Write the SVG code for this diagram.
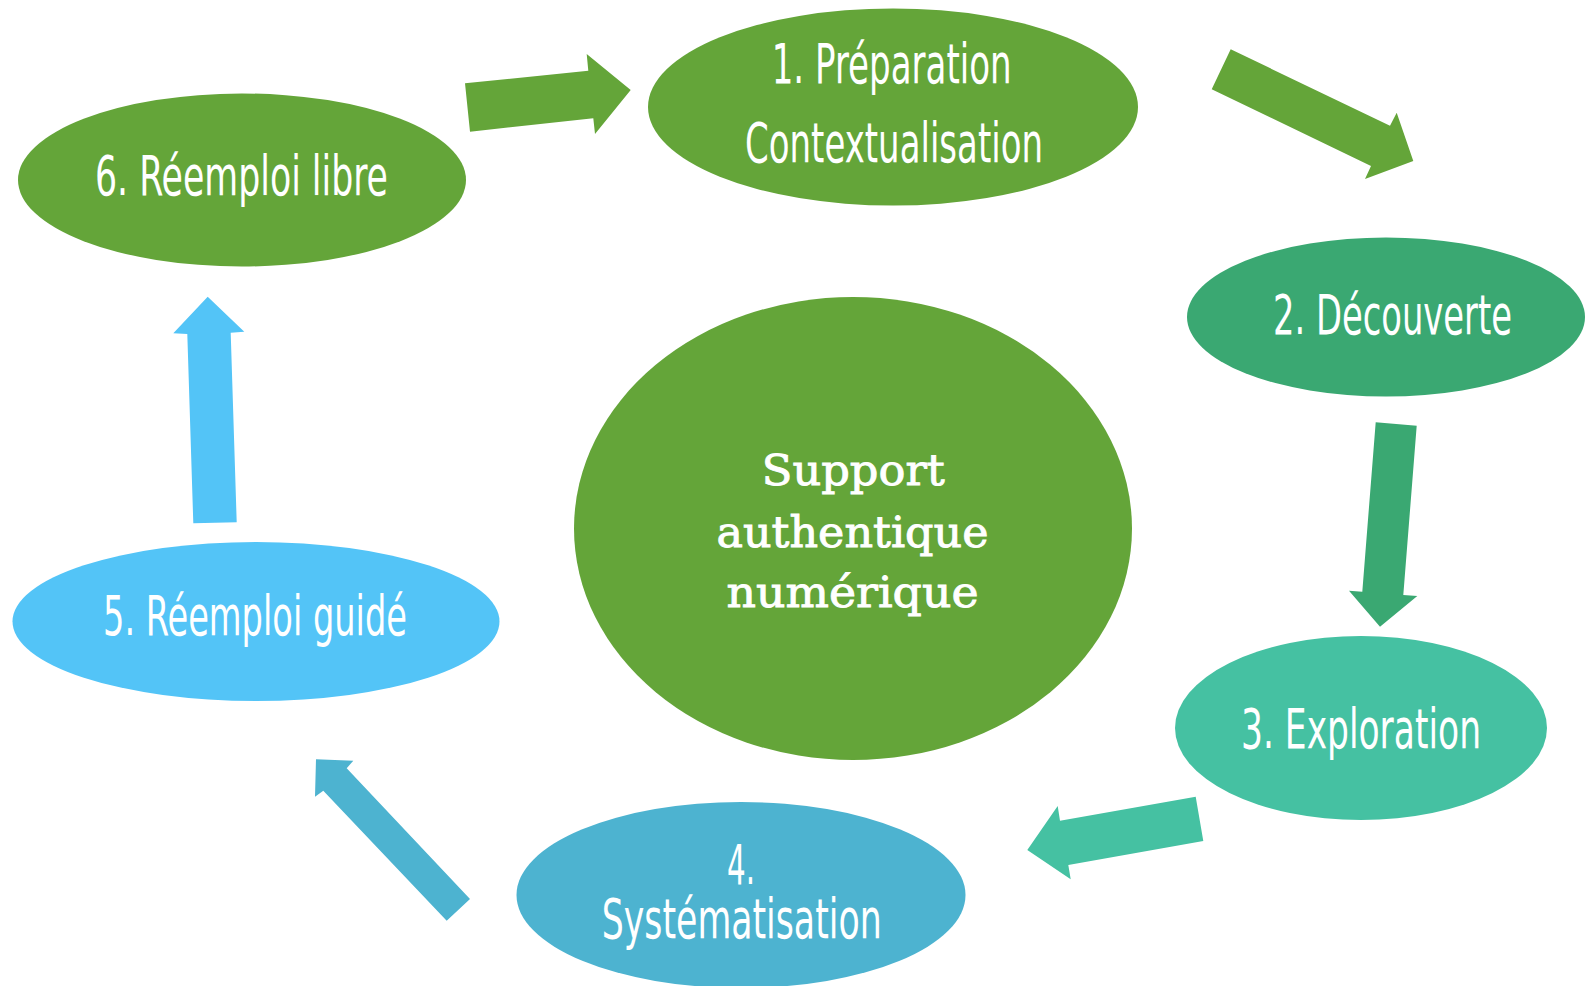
<svg xmlns="http://www.w3.org/2000/svg" width="1585" height="986" viewBox="0 0 1585 986">
<style>
.lbl{font-family:"DejaVu Sans Condensed","DejaVu Sans","Liberation Sans",sans-serif;font-weight:200;font-size:55px;fill:#ffffff;text-anchor:middle}
.ctr{font-family:"DejaVu Serif","Liberation Serif",serif;font-size:43px;fill:#ffffff;stroke:#ffffff;stroke-width:0.9;text-anchor:middle}
</style>
<rect width="1585" height="986" fill="#ffffff"/>
<g id="connectors">
<polygon fill="#64A539" points="465,83.3 588.3,70.7 586.7,54 630.7,90 595,134 593.3,118.3 470,131.7"/>
<polygon fill="#64A539" points="1230.7,49.3 1390,125.7 1396.7,112.7 1413.3,161 1365,179 1371,166 1211.7,89.3"/>
<polygon fill="#3AA872" points="1375.7,422.3 1416.7,425.7 1403.3,595 1417.3,596 1380,626.7 1349,590.7 1362.3,591.7"/>
<polygon fill="#45C1A2" points="1195.7,796.7 1203.3,841 1068.3,865 1070.7,879.3 1027.3,850 1057.7,806 1060,820.7"/>
<polygon fill="#4DB3D0" points="470,899 446.7,920.7 323.3,790.7 315,796.7 316,759.3 353.3,760.7 346.7,768.3"/>
<polygon fill="#53C4F7" points="193.3,523.3 236.7,522.3 230.7,332.7 244.3,331.7 207.7,296.7 173.3,333.3 187.3,334"/>
</g>
<g id="center">
<ellipse cx="853" cy="528.5" rx="279" ry="231.5" fill="#64A539"/>
<text class="ctr" x="853.3" y="485" textLength="183" lengthAdjust="spacingAndGlyphs">Support</text>
<text class="ctr" x="852.5" y="546.7" textLength="272" lengthAdjust="spacingAndGlyphs">authentique</text>
<text class="ctr" x="852.5" y="606.7" textLength="252" lengthAdjust="spacingAndGlyphs">numérique</text>
</g>
<g id="n1">
<ellipse cx="893" cy="107" rx="245" ry="98.6" fill="#64A539"/>
<text class="lbl" x="891.7" y="83.3" textLength="240" lengthAdjust="spacingAndGlyphs">1. Préparation</text>
<text class="lbl" x="894" y="162" textLength="298" lengthAdjust="spacingAndGlyphs">Contextualisation</text>
</g>
<g id="n2">
<ellipse cx="1386" cy="317" rx="199" ry="79.5" fill="#3AA872"/>
<text class="lbl" x="1512" y="334" textLength="239" lengthAdjust="spacingAndGlyphs" style="text-anchor:end">2. Découverte</text>
</g>
<g id="n3">
<ellipse cx="1361" cy="728" rx="186" ry="92" fill="#45C1A2"/>
<text class="lbl" x="1361" y="748" textLength="240" lengthAdjust="spacingAndGlyphs">3. Exploration</text>
</g>
<g id="n4">
<ellipse cx="741" cy="895" rx="224.5" ry="93" fill="#4DB3D0"/>
<text class="lbl" x="741" y="884" textLength="28" lengthAdjust="spacingAndGlyphs">4.</text>
<text class="lbl" x="741.7" y="938.3" textLength="280" lengthAdjust="spacingAndGlyphs">Systématisation</text>
</g>
<g id="n5">
<ellipse cx="256" cy="621.5" rx="243.5" ry="79.5" fill="#53C4F7"/>
<text class="lbl" x="255" y="635" textLength="304" lengthAdjust="spacingAndGlyphs">5. Réemploi guidé</text>
</g>
<g id="n6">
<ellipse cx="242" cy="180" rx="224" ry="86.5" fill="#64A539"/>
<text class="lbl" x="241.5" y="195" textLength="293" lengthAdjust="spacingAndGlyphs">6. Réemploi libre</text>
</g>
</svg>
